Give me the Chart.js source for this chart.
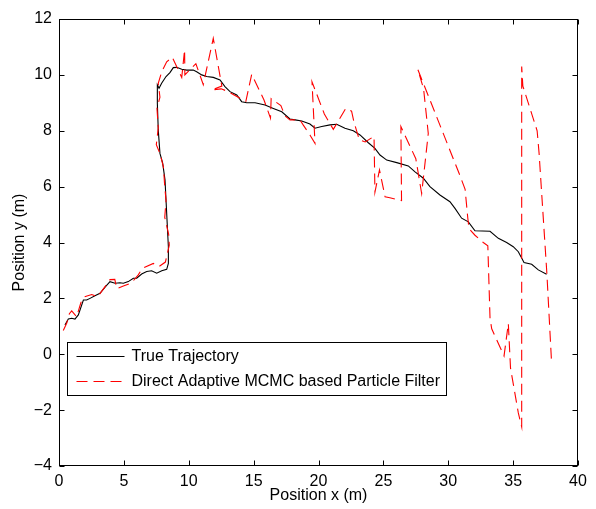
<!DOCTYPE html>
<html><head><meta charset="utf-8">
<script src="https://cdn.jsdelivr.net/npm/chart.js@4.4.1/dist/chart.umd.min.js"></script>
<style>html,body{margin:0;padding:0;background:#fff;}#wrap{width:596px;height:509px;position:relative;}</style>
</head><body><div id="wrap"><canvas id="c" width="596" height="509"></canvas></div>
<script>
// ---- data ----
const trueX = [0.46,0.72,0.98,1.23,1.49,1.88,2.13,2.39,2.77,3.16,3.55,3.93,4.32,4.7,4.96,5.34,5.73,5.99,6.37,6.76,7.14,7.53,7.92,8.3,8.43,8.43,8.3,8.17,7.99,7.78,7.65,7.58,7.58,7.71,7.91,8.25,8.55,8.81,9.07,9.46,9.84,10.35,10.61,11.0,11.38,11.89,12.41,12.79,13.18,13.7,14.08,14.47,15.11,15.88,16.52,17.17,17.8,18.19,18.71,19.34,19.73,20.25,20.89,21.4,22.04,22.68,23.2,23.84,24.35,24.74,25.26,26.03,26.92,27.44,28.08,28.59,29.36,30.13,30.52,31.03,31.55,32.06,33.22,33.86,34.5,35.01,35.4,35.84,36.43,36.94,37.58];
const trueY = [1.05,1.26,1.29,1.26,1.41,1.94,1.94,2.0,2.09,2.18,2.4,2.6,2.54,2.56,2.54,2.6,2.72,2.72,2.87,2.96,2.99,2.9,2.99,3.04,3.25,3.84,5.04,6.24,6.84,7.19,8.03,8.98,9.64,9.52,9.7,9.94,10.08,10.26,10.27,10.2,10.17,10.17,10.11,10.0,9.94,9.91,9.82,9.58,9.4,9.28,9.04,9.0,9.0,8.92,8.8,8.68,8.42,8.39,8.35,8.24,8.09,8.15,8.21,8.23,8.09,8.0,7.85,7.57,7.37,7.13,6.95,6.86,6.74,6.53,6.3,6.0,5.7,5.46,5.22,4.87,4.74,4.42,4.4,4.15,4.0,3.85,3.67,3.28,3.22,3.02,2.86];
const estX = [0.33,0.6,0.8,0.98,1.36,1.69,1.95,2.52,2.98,3.55,3.93,4.3,4.45,4.96,5.6,6.11,6.42,7.27,7.71,8.2,8.5,8.45,8.15,8.25,8.15,8.05,7.78,7.5,7.65,7.55,7.78,7.65,7.91,8.3,8.73,9.46,9.68,9.7,10.55,11.12,11.89,12.55,11.77,12.5,13.05,13.95,14.4,14.85,15.8,16.3,16.35,17.1,17.42,17.8,18.57,18.83,19.34,19.73,19.5,20.45,21.14,22.1,22.55,22.73,23.15,23.6,24.28,24.35,24.7,25.13,25.5,26.4,26.35,27.5,27.95,28.46,28.1,27.65,30.9,31.3,31.5,31.6,32.06,32.7,33.05,33.22,33.35,34.3,34.63,34.8,35.4,35.66,35.66,35.75,36.85,37.0,37.6,37.96];
const estY = [0.85,1.12,1.45,1.55,1.34,1.85,2.05,2.14,2.06,2.42,2.67,2.68,2.35,2.44,2.56,2.84,3.07,3.25,3.14,3.3,3.9,4.3,4.9,5.5,6.0,6.7,7.19,7.5,8.1,8.8,9.2,9.7,10.1,10.47,10.63,9.91,10.9,10.0,10.4,9.65,11.31,9.6,9.46,9.5,9.4,9.16,9.05,10.02,9.1,8.45,9.15,8.9,8.53,8.39,8.39,8.2,7.85,7.55,9.75,8.6,8.05,8.8,8.7,8.32,7.67,7.6,7.8,5.8,6.6,5.64,5.6,5.5,8.15,7.0,5.75,7.9,9.5,10.2,6.4,5.9,4.9,4.5,4.26,4.0,3.88,1.29,0.91,-0.06,1.1,-0.5,-2.1,-2.6,10.3,9.6,8.0,7.2,2.9,-0.27];
const seriesLabels = ['True Trajectory', 'Direct Adaptive MCMC based Particle Filter'];
const xTicks = [0,5,10,15,20,25,30,35,40];
const yTicks = [-4,-2,0,2,4,6,8,10,12];
const xTitle = 'Position x (m)';
const yTitle = 'Position y (m)';

const FONT_FAMILY = "'Liberation Sans', Arial, Helvetica, sans-serif";
const font = {family: FONT_FAMILY, size: 16, weight: 'normal'};
const DASH = [11, 6];
const fmt = v => v < 0 ? '\u2212' + Math.abs(v) : String(v);
const toPts = (xs, ys) => xs.map((x, i) => ({x: x, y: ys[i]}));

const framePlugin = {
  id: 'frame',
  afterDraw(chart) {
    const ctx = chart.ctx, a = chart.chartArea;
    const xs = chart.scales.x, ys = chart.scales.y;
    const L = Math.round(a.left) + 0.5, R = Math.round(a.right) - 0.5;
    const T = Math.round(a.top) + 0.5, B = Math.round(a.bottom) - 0.5;
    ctx.save();
    ctx.strokeStyle = '#000'; ctx.lineWidth = 1; ctx.setLineDash([]);
    ctx.strokeRect(L, T, R - L, B - T);
    const tl = 5;
    ctx.beginPath();
    xTicks.forEach(v => {
      const p = Math.round(xs.getPixelForValue(v)) + 0.5;
      ctx.moveTo(p, B); ctx.lineTo(p, B - tl);
      ctx.moveTo(p, T); ctx.lineTo(p, T + tl);
    });
    yTicks.forEach(v => {
      const p = Math.round(ys.getPixelForValue(v)) + 0.5;
      ctx.moveTo(L, p); ctx.lineTo(L + tl, p);
      ctx.moveTo(R, p); ctx.lineTo(R - tl, p);
    });
    ctx.stroke();

    // legend box inside the plot, lower left
    ctx.font = '16px ' + FONT_FAMILY;
    const ds = chart.data.datasets;
    let maxW = 0;
    ds.forEach(d => { maxW = Math.max(maxW, ctx.measureText(d.label).width); });
    const bx = Math.round(a.left) + 8.5, by = Math.round(a.bottom) - 123.5;
    const lineX0 = bx + 9, lineX1 = bx + 57, textX = bx + 64;
    const bw = Math.round(textX - bx + maxW + 6), bh = 53;
    ctx.fillStyle = '#fff';
    ctx.fillRect(bx, by, bw, bh);
    ctx.strokeStyle = '#000'; ctx.lineWidth = 1;
    ctx.strokeRect(bx, by, bw, bh);
    ds.forEach((d, i) => {
      const yy = Math.round(by + 13 + i * 25) + 0.5;
      ctx.beginPath();
      ctx.strokeStyle = d.borderColor; ctx.lineWidth = d.borderWidth;
      ctx.setLineDash(d.borderDash || []);
      ctx.moveTo(lineX0, yy); ctx.lineTo(lineX1, yy); ctx.stroke();
      ctx.setLineDash([]);
      ctx.fillStyle = '#000'; ctx.textBaseline = 'middle'; ctx.textAlign = 'left';
      ctx.fillText(d.label, textX, yy);
    });
    ctx.restore();
  }
};

new Chart(document.getElementById('c'), {
  type: 'scatter',
  data: {
    datasets: [
      {label: seriesLabels[0], data: toPts(trueX, trueY), showLine: true, borderColor: '#000000', borderWidth: 1.1, pointRadius: 0, fill: false, tension: 0, order: 2},
      {label: seriesLabels[1], data: toPts(estX, estY), showLine: true, borderColor: '#ff0000', borderWidth: 1.1, borderDash: DASH, pointRadius: 0, fill: false, tension: 0, order: 1}
    ]
  },
  options: {
    responsive: false,
    animation: false,
    devicePixelRatio: 1,
    layout: {padding: {top: 19, right: 18, left: 0, bottom: 0}},
    plugins: {legend: {display: false}, tooltip: {enabled: false}},
    events: [],
    scales: {
      x: {
        type: 'linear', position: 'bottom', min: 0, max: 40,
        afterBuildTicks: s => { s.ticks = xTicks.map(v => ({value: v})); },
        ticks: {callback: fmt, font: font, color: '#000', padding: 6, maxRotation: 0, autoSkip: false},
        grid: {display: false, drawTicks: false},
        border: {display: false},
        title: {display: true, text: xTitle, font: font, color: '#000', padding: {top: 0, bottom: 4}},
        afterFit: s => { s.height = 43; }
      },
      y: {
        type: 'linear', position: 'left', min: -4, max: 12,
        afterBuildTicks: s => { s.ticks = yTicks.map(v => ({value: v})); },
        ticks: {callback: fmt, font: font, color: '#000', padding: 7, autoSkip: false},
        grid: {display: false, drawTicks: false},
        border: {display: false},
        title: {display: true, text: yTitle, font: font, color: '#000', padding: {top: 10, bottom: 0}},
        afterFit: s => { s.width = 59; }
      }
    }
  },
  plugins: [framePlugin]
});
</script></body></html>
